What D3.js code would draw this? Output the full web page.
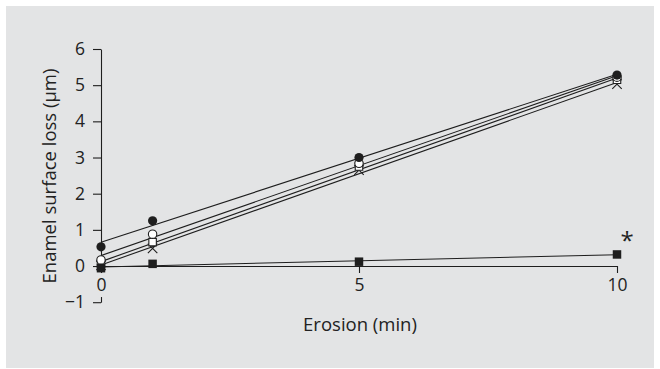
<!DOCTYPE html>
<html><head><meta charset="utf-8">
<script src="https://cdn.jsdelivr.net/npm/d3@7"></script>
<style>body{margin:0;background:#fff}svg{display:block}</style>
</head><body><svg id="c" width="660" height="369"></svg>
<script>
const times = [0, 1, 5, 10];
const filledCircle = [0.53, 1.25, 3.0, 5.28];
const openCircle = [0.17, 0.88, 2.84, 5.22];
const openSquare = [0.05, 0.66, 2.75, 5.15];
const crossVals = [0.02, 0.49, 2.65, 5.03];
const filledSquare = [-0.06, 0.06, 0.12, 0.32];
const xTicks = [0, 5, 10];
const yTicks = [-1, 0, 1, 2, 3, 4, 5, 6];

const series = [
  {name:"cross", values: crossVals, shape:"x"},
  {name:"openSquare", values: openSquare, shape:"sqOpen"},
  {name:"openCircle", values: openCircle, shape:"cOpen"},
  {name:"filledCircle", values: filledCircle, shape:"cFill"},
  {name:"filledSquare", values: filledSquare, shape:"sqFill"}
];

const svg = d3.select("#c");
const bg = "#e3e4e5";
const ink = "#1e1e1e";
svg.append("rect").attr("x",6).attr("y",6).attr("width",648).attr("height",362).attr("fill",bg);

const x = d3.scaleLinear().domain([0,10]).range([101,617]);
const y = d3.scaleLinear().domain([-1,6]).range([302.2,49]);

const font = "'Open Sans', 'Noto Sans', sans-serif";

// y axis
const gy = svg.append("g").attr("transform","translate(101,0)")
  .call(d3.axisLeft(y).tickValues(yTicks).tickSize(8).tickSizeOuter(0).tickPadding(8)
    .tickFormat(d => d < 0 ? "\u2212" + Math.abs(d) : d));
gy.select(".domain").attr("stroke", ink).attr("stroke-width",1.1);
gy.selectAll(".tick line").attr("stroke", ink).attr("stroke-width",1.1);
gy.selectAll(".tick text").attr("font-family",font).attr("font-size",17.5).attr("fill","#222");

// x axis
const gx = svg.append("g").attr("transform",`translate(0,${y(0)})`)
  .call(d3.axisBottom(x).tickValues(xTicks).tickSize(7).tickSizeOuter(0).tickPadding(6));
gx.select(".domain").attr("stroke", ink).attr("stroke-width",1.1);
gx.selectAll(".tick line").attr("stroke", ink).attr("stroke-width",1.1);
gx.selectAll(".tick text").attr("font-family",font).attr("font-size",17.5).attr("fill","#222");
// background behind x "0" label interrupting y axis
gx.selectAll(".tick").filter(d => d === 0).insert("rect","text")
  .attr("x",-7).attr("y",7).attr("width",14).attr("height",24).attr("fill",bg);

// regression lines
function fit(vals){
  const mx = d3.mean(times), my = d3.mean(vals);
  let sxy=0, sxx=0;
  times.forEach((t,i)=>{ sxy += (t-mx)*(vals[i]-my); sxx += (t-mx)*(t-mx); });
  const b = sxy/sxx; return {a: my - b*mx, b};
}
const lineG = svg.append("g");
series.forEach(s=>{
  const f = fit(s.values);
  lineG.append("line")
    .attr("x1", x(0)).attr("y1", y(f.a))
    .attr("x2", x(10)).attr("y2", y(f.a + f.b*10))
    .attr("stroke", ink).attr("stroke-width", 1.1);
});

// markers
const mG = svg.append("g");
series.forEach(s=>{
  s.values.forEach((v,i)=>{
    const cx = x(times[i]), cy = y(v);
    if (s.shape === "cFill") {
      mG.append("circle").attr("cx",cx).attr("cy",cy).attr("r",4.6).attr("fill",ink);
    } else if (s.shape === "cOpen") {
      mG.append("circle").attr("cx",cx).attr("cy",cy).attr("r",4.2).attr("fill","#fff").attr("stroke",ink).attr("stroke-width",1.1);
    } else if (s.shape === "sqFill") {
      mG.append("path").attr("transform",`translate(${cx},${cy})`)
        .attr("d", d3.symbol(d3.symbolSquare, 72)()).attr("fill",ink);
    } else if (s.shape === "sqOpen") {
      mG.append("path").attr("transform",`translate(${cx},${cy})`)
        .attr("d", d3.symbol(d3.symbolSquare, 56)()).attr("fill","#fff").attr("stroke",ink).attr("stroke-width",1.1);
    } else if (s.shape === "x") {
      mG.append("path").attr("transform",`translate(${cx},${cy})`)
        .attr("d", d3.symbol(d3.symbolX, 60)()).attr("fill","none").attr("stroke",ink).attr("stroke-width",1.1);
    }
  });
});

// asterisk
svg.append("text").attr("x", x(10)+10).attr("y", y(filledSquare[3]) - 5)
  .attr("text-anchor","middle").attr("font-family",font).attr("font-size",24).attr("fill","#222").text("*");

// axis titles
svg.append("text").attr("x", 360).attr("y", 331).attr("text-anchor","middle")
  .attr("font-family",font).attr("font-size",18.5).attr("fill","#222").text("Erosion (min)");
svg.append("text").attr("transform","translate(56,176) rotate(-90)").attr("text-anchor","middle")
  .attr("font-family",font).attr("font-size",18.5).attr("fill","#222").text("Enamel surface loss (µm)");
</script></body></html>
